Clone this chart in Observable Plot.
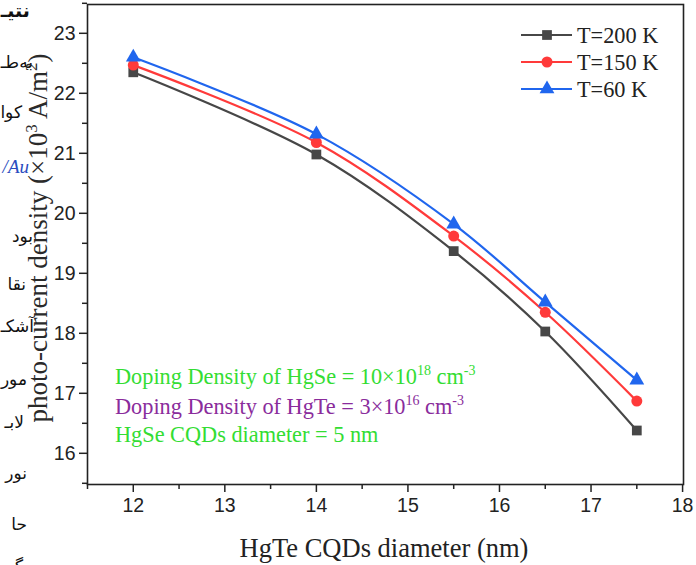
<!DOCTYPE html>
<html>
<head>
<meta charset="utf-8">
<script src="https://cdn.jsdelivr.net/npm/d3@7"></script>
<script src="https://cdn.jsdelivr.net/npm/@observablehq/plot@0.6"></script>
<style>
  html, body { margin: 0; padding: 0; background: #fff; }
  #chart { position: relative; width: 696px; height: 565px; overflow: hidden; }
</style>
</head>
<body>
<div id="chart"></div>
<script>
// ---- data ----
const diameters = [12, 14, 15.5, 16.5, 17.5];
const t200 = [22.35, 20.98, 19.37, 18.03, 16.38];
const t150 = [22.47, 21.18, 19.62, 18.35, 16.87];
const t60  = [22.60, 21.32, 19.82, 18.52, 17.22];
const seriesNames = ["T=200 K", "T=150 K", "T=60 K"];
const seriesValues = [t200, t150, t60];
const seriesColors = ["#474747", "#ff3a3a", "#2066ee"];
const seriesSymbols = ["square", "circle", "triangle"];
const xTicks = [12, 13, 14, 15, 16, 17, 18];
const xMinor = [11.5, 12.5, 13.5, 14.5, 15.5, 16.5, 17.5];
const yTicks = [16, 17, 18, 19, 20, 21, 22, 23];
const yMinor = [15.5, 16.5, 17.5, 18.5, 19.5, 20.5, 21.5, 22.5, 23.5];
const sideText = ["نتیـ", "بەطـ", "کوا", "/Au", "بود", "نقا", "آشکـ", "مور", "لابـ", "نور", "حا", "گـ"];

const rows = [];
seriesNames.forEach((s, i) => diameters.forEach((d, j) => rows.push({series: s, x: d, y: seriesValues[i][j]})));

const serif = "'Liberation Serif', 'Times New Roman', serif";
const sans = "'Liberation Sans', Arial, sans-serif";

const plot = Plot.plot({
  width: 696, height: 565,
  marginLeft: 87, marginRight: 13, marginTop: 4, marginBottom: 81,
  x: {domain: [11.5, 18.01]},
  y: {domain: [15.48, 23.48]},
  color: {domain: seriesNames, range: seriesColors},
  symbol: {domain: seriesNames, range: seriesSymbols},
  style: {fontFamily: sans, fontSize: "19.5px", background: "transparent", overflow: "visible"},
  marks: [
    Plot.axisX(xTicks, {tickSize: 8, tickPadding: 6, fontSize: 19.5, fill: "#222", stroke: "#222", strokeWidth: 1.5, label: null, tickFormat: d => String(d)}),
    Plot.axisX(xMinor, {tickSize: 5, tickFormat: () => "", stroke: "#222", strokeWidth: 1.5, label: null}),
    Plot.axisY(yTicks, {tickSize: 8, tickPadding: 4, fontSize: 19.5, fill: "#222", stroke: "#222", strokeWidth: 1.5, label: null, tickFormat: d => String(d)}),
    Plot.axisY(yMinor, {tickSize: 5, tickFormat: () => "", stroke: "#222", strokeWidth: 1.5, label: null}),
    Plot.frame({stroke: "#222", strokeWidth: 1.6}),
    Plot.line(rows, {x: "x", y: "y", z: "series", stroke: "series", curve: "catmull-rom", strokeWidth: 2.2}),
    Plot.dot(rows, {x: "x", y: "y", fill: "series", symbol: "series", r: 5.5, stroke: "none"})
  ]
});

const chart = document.getElementById("chart");
chart.appendChild(plot);
const svg = d3.select(plot);

// side text fragments (behind)
const side = svg.insert("g", ":first-child").attr("font-family", "'DejaVu Sans', 'Noto Sans', sans-serif").attr("font-size", 17).attr("fill", "#111");
const sideY = [17, 68, 118, 173, 242, 290, 332, 385, 428, 479, 530, 572];
const sideX = [30, 33, 22, 29, 33, 26, 34, 27, 24, 27, 27, 23];
sideText.forEach((t, i) => {
  const el = side.append("text").attr("x", sideX[i]).attr("y", sideY[i]).text(t);
  if (i === 0) el.attr("font-weight", "bold").attr("font-size", 19);
  if (t === "/Au") {
    el.attr("direction", "ltr").attr("text-anchor", "end").attr("fill", "#2a4cc0").attr("font-style", "italic").attr("font-family", serif).attr("font-size", 19);
  } else {
    el.attr("direction", "rtl").attr("text-anchor", "start");
  }
});

// y axis label
const yl = svg.append("text").attr("font-family", serif).attr("font-size", 27).attr("fill", "#2a2a2a")
  .attr("text-anchor", "middle").attr("transform", "translate(47,238) rotate(-90)");
yl.append("tspan").text("photo-current density (×10");
yl.append("tspan").attr("font-size", 17).attr("dy", -10).text("3");
yl.append("tspan").attr("dy", 10).text(" A/m");
yl.append("tspan").attr("font-size", 17).attr("dy", -10).text("2");
yl.append("tspan").attr("dy", 10).text(")");

// x axis label
svg.append("text").attr("font-family", serif).attr("font-size", 26.5).attr("fill", "#222")
  .attr("text-anchor", "middle").attr("x", 384).attr("y", 557).text("HgTe CQDs diameter (nm)");

// annotations
const ann = svg.append("g").attr("font-family", serif).attr("font-size", 22.3).attr("text-anchor", "start");
const a1 = ann.append("text").attr("x", 115).attr("y", 384).attr("fill", "#33dd33");
a1.append("tspan").text("Doping Density of HgSe = 10×10");
a1.append("tspan").attr("font-size", 14).attr("dy", -9).text("18");
a1.append("tspan").attr("dy", 9).text(" cm");
a1.append("tspan").attr("font-size", 14).attr("dy", -9).text("-3");
const a2 = ann.append("text").attr("x", 115).attr("y", 414).attr("fill", "#8a2c9c");
a2.append("tspan").text("Doping Density of HgTe = 3×10");
a2.append("tspan").attr("font-size", 14).attr("dy", -9).text("16");
a2.append("tspan").attr("dy", 9).text(" cm");
a2.append("tspan").attr("font-size", 14).attr("dy", -9).text("-3");
ann.append("text").attr("x", 115).attr("y", 442).attr("fill", "#33dd33").text("HgSe CQDs diameter = 5 nm");

// legend
const lg = svg.append("g").attr("text-anchor", "start");
const legY = [35, 62, 89];
seriesNames.forEach((s, i) => {
  const g = lg.append("g").attr("transform", `translate(0,${legY[i]})`);
  g.append("line").attr("x1", 521).attr("x2", 572).attr("y1", 0).attr("y2", 0).attr("stroke", seriesColors[i]).attr("stroke-width", 2.2);
  const sym = [d3.symbolSquare, d3.symbolCircle, d3.symbolTriangle][i];
  g.append("path").attr("d", d3.symbol(sym, Math.PI * 5.5 * 5.5)()).attr("transform", "translate(547,0)").attr("fill", seriesColors[i]);
  g.append("text").attr("x", 577).attr("y", 7.5).attr("font-family", serif).attr("font-size", 22.3).attr("fill", "#222").text(s);
});
</script>
</body>
</html>
